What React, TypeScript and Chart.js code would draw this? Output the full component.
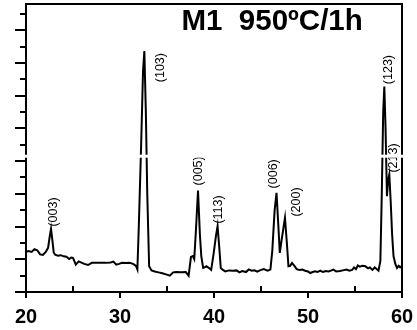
import React, { useEffect, useRef } from 'react';
import { Chart, registerables } from 'chart.js';

Chart.register(...registerables);

// 2-theta (degrees) and intensity (arbitrary units, one unit per y tick)
const twoTheta = [
  20.0, 20.3, 20.6, 20.9, 21.2, 21.5, 21.8, 22.1, 22.35, 22.5, 22.66, 22.8, 22.95, 23.1, 23.4, 23.7,
  24.0, 24.3, 24.6, 24.8, 25.0, 25.3, 25.6, 25.9, 26.2, 26.6, 27.0, 27.5, 28.0, 28.5, 29.0, 29.3,
  29.6, 29.9, 30.2, 30.6, 31.0, 31.4, 31.7, 31.85, 32.0, 32.25, 32.45, 32.59, 32.75, 32.9, 33.1, 33.35,
  33.7, 34.1, 34.5, 34.9, 35.3, 35.65, 36.0, 36.5, 37.0, 37.3, 37.55, 37.75, 37.9, 38.1, 38.3, 38.5,
  38.65, 38.85, 39.0, 39.2, 39.5, 39.7, 39.95, 40.2, 40.38, 40.55, 40.72, 40.95, 41.2, 41.6, 42.0, 42.4,
  42.7, 43.0, 43.4, 43.7, 44.0, 44.3, 44.6, 45.0, 45.3, 45.7, 46.0, 46.2, 46.45, 46.65, 46.85, 47.0,
  47.2, 47.55, 47.75, 47.92, 48.1, 48.3, 48.55, 48.8, 49.1, 49.4, 49.7, 50.0, 50.25, 50.5, 50.75, 51.0,
  51.3, 51.6, 51.9, 52.2, 52.5, 52.7, 53.0, 53.4, 53.7, 54.1, 54.4, 54.7, 54.9, 55.1, 55.3, 55.5,
  55.8, 56.1, 56.4, 56.6, 56.85, 57.1, 57.3, 57.5, 57.7, 57.85, 58.0, 58.12, 58.25, 58.4, 58.52, 58.65,
  58.8, 58.95, 59.1, 59.3, 59.47, 59.65, 59.8, 60.0,
];
const intensity = [
  2.45, 2.5, 2.45, 2.62, 2.55, 2.3, 2.27, 2.45, 2.7, 3.3, 3.85, 3.2, 2.4, 2.28, 2.22, 2.25,
  2.18, 2.15, 2.02, 2.1, 2.08, 1.67, 1.87, 1.8, 1.72, 1.65, 1.78, 1.78, 1.78, 1.78, 1.8, 1.86,
  1.67, 1.72, 1.78, 1.77, 1.78, 1.72, 1.6, 1.38, 4.0, 9.0, 13.5, 14.73, 11.0, 6.0, 1.57, 1.32,
  1.25, 1.2, 1.15, 1.08, 1.0, 1.2, 1.22, 1.2, 1.22, 1.0, 2.14, 2.2, 2.02, 4.0, 6.2, 3.5,
  2.18, 1.47, 1.5, 1.57, 1.45, 1.35, 2.3, 3.4, 4.02, 2.8, 1.47, 1.35, 1.26, 1.32, 1.3, 1.32,
  1.2, 1.28, 1.22, 1.38, 1.3, 1.33, 1.25, 1.35, 1.4, 1.3, 1.37, 2.5, 5.0, 6.06, 4.0, 2.39,
  3.2, 4.53, 3.0, 1.57, 1.6, 1.78, 1.6, 1.4, 1.35, 1.37, 1.3, 1.25, 1.16, 1.22, 1.26, 1.22,
  1.3, 1.22, 1.28, 1.26, 1.32, 1.37, 1.26, 1.28, 1.32, 1.37, 1.3, 1.35, 1.5, 1.4, 1.62, 1.55,
  1.6, 1.57, 1.45, 1.5, 1.35, 1.5, 1.4, 1.3, 1.9, 6.0, 11.0, 12.55, 10.0, 5.85, 6.8, 7.18,
  5.5, 3.5, 2.18, 1.7, 1.47, 1.6, 1.5, 1.6,
];

// Peak annotations (Miller indices) anchored in data coordinates
const peakLabels = ['(003)', '(103)', '(005)', '(113)', '(006)', '(200)', '(123)', '(213)'];
const peakLabelX = [22.9, 34.33, 38.33, 40.46, 46.33, 48.76, 58.56, 59.1];
const peakLabelY = [4.0, 12.82, 6.51, 4.18, 6.33, 4.61, 12.7, 7.3];

const xMin = 20;
const xMax = 60;
const xMajorStep = 10;
const xMinorTicks = [25, 35, 45, 55];
const yMin = 0;
const yMax = 17.6;
const yTickStep = 1;
const yBreakValue = 8.3;
const titleText = 'M1  950ºC/1h';

const FONT = '"Liberation Sans", Arial, Helvetica, sans-serif';

const decorPlugin = {
  id: 'decor',
  afterDatasetsDraw(chart: any) {
    const { ctx, chartArea: a, scales } = chart;
    const x = scales.x;
    const y = scales.y;
    ctx.save();
    ctx.strokeStyle = '#000';
    ctx.lineWidth = 2;
    ctx.lineCap = 'butt';
    ctx.lineJoin = 'miter';

    // frame: left, top, right
    ctx.beginPath();
    ctx.moveTo(a.left, a.bottom + 1);
    ctx.lineTo(a.left, a.top);
    ctx.lineTo(a.right, a.top);
    ctx.lineTo(a.right, a.bottom + 1);
    ctx.stroke();

    // y ticks: long on even, short on odd
    ctx.beginPath();
    let k = 0;
    for (let v = yMin; v <= yMax + 1e-9; v += yTickStep, k++) {
      const py = Math.round(y.getPixelForValue(v));
      const len = k % 2 === 0 ? 11 : 6;
      ctx.moveTo(a.left - len, py);
      ctx.lineTo(a.left, py);
    }
    ctx.stroke();

    // x minor ticks (inward)
    ctx.beginPath();
    for (const v of xMinorTicks) {
      const px = Math.round(x.getPixelForValue(v));
      ctx.moveTo(px, a.bottom);
      ctx.lineTo(px, a.bottom - 6);
    }
    ctx.stroke();

    // peak labels (rotated)
    ctx.fillStyle = '#000';
    ctx.font = `12.5px ${FONT}`;
    ctx.textAlign = 'left';
    ctx.textBaseline = 'middle';
    peakLabels.forEach((txt, i) => {
      const px = x.getPixelForValue(peakLabelX[i]);
      const py = y.getPixelForValue(peakLabelY[i]);
      ctx.save();
      ctx.translate(px, py);
      ctx.rotate(-Math.PI / 2);
      ctx.fillText(txt, 0, 0);
      ctx.restore();
    });

    // axis break (white band)
    const by = y.getPixelForValue(yBreakValue);
    ctx.fillStyle = '#fff';
    ctx.fillRect(a.left - 2, by - 1.5, a.right - a.left + 4, 3);

    // title
    ctx.fillStyle = '#000';
    ctx.font = `bold 29.5px ${FONT}`;
    ctx.textAlign = 'left';
    ctx.textBaseline = 'alphabetic';
    ctx.fillText(titleText, a.left + 155.5, a.top + 26);

    ctx.restore();
  },
};

export default function App() {
  const canvasRef = useRef<HTMLCanvasElement | null>(null);

  useEffect(() => {
    if (!canvasRef.current) return;
    const chart = new Chart(canvasRef.current, {
      type: 'line',
      data: {
        datasets: [
          {
            data: twoTheta.map((t, i) => ({ x: t, y: intensity[i] })),
            borderColor: '#000',
            borderWidth: 2,
            pointRadius: 0,
            fill: false,
            tension: 0,
          },
        ],
      },
      options: {
        responsive: false,
        animation: false,
        devicePixelRatio: 1,
        layout: { padding: { left: 26, right: 15, top: 4, bottom: 2 } },
        plugins: {
          legend: { display: false },
          tooltip: { enabled: false },
        },
        scales: {
          x: {
            type: 'linear',
            min: xMin,
            max: xMax,
            afterFit: (scale: any) => {
              scale.height = 36;
            },
            ticks: {
              stepSize: xMajorStep,
              color: '#000',
              font: { family: FONT, size: 20, weight: 'bold', lineHeight: 1.95 },
              padding: 0,
              maxRotation: 0,
              autoSkip: false,
            },
            grid: {
              drawOnChartArea: false,
              drawTicks: true,
              tickLength: 6,
              color: '#000',
              lineWidth: 2,
            },
            border: { display: true, color: '#000', width: 2 },
          },
          y: {
            type: 'linear',
            display: false,
            min: yMin,
            max: yMax,
          },
        },
      },
      plugins: [decorPlugin],
    } as any);
    return () => chart.destroy();
  }, []);

  return (
    <div style={{ position: 'absolute', left: 0, top: 0, width: 417, height: 330, background: '#fff' }}>
      <canvas ref={canvasRef} width={417} height={330} style={{ display: 'block' }} />
    </div>
  );
}
